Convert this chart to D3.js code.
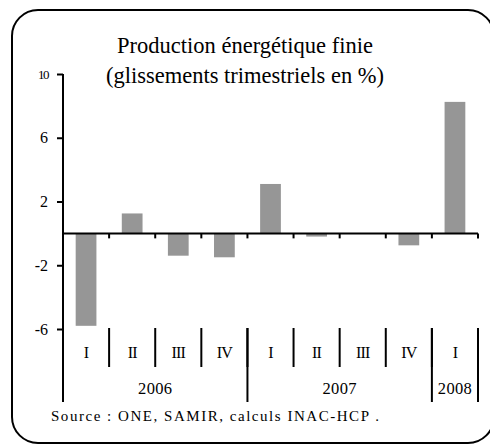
<!DOCTYPE html>
<html>
<head>
<meta charset="utf-8">
<script src="https://cdn.jsdelivr.net/npm/d3@7"></script>
<style>
  body { margin: 0; background: #fff; }
  svg { display: block; font-family: "Liberation Serif", "Times New Roman", serif; }
</style>
</head>
<body>
<svg id="chart" width="490" height="445"></svg>
<script>
// data
const quarters = ['I', 'II', 'III', 'IV', 'I', 'II', 'III', 'IV', 'I'];
const values = [-5.8, 1.25, -1.4, -1.5, 3.1, -0.2, 0, -0.75, 8.25];
const yearLabels = ['2006', '2007', '2008'];
const yearSpans = [4, 4, 1];
const yTicks = [-6, -2, 2, 6, 10];

const svg = d3.select('#chart');

// rounded frame
svg.append('rect')
  .attr('x', 12).attr('y', 10)
  .attr('width', 482).attr('height', 433)
  .attr('rx', 26).attr('ry', 26)
  .attr('fill', 'none')
  .attr('stroke', '#000')
  .attr('stroke-width', 2);

// title
const title = svg.append('text')
  .attr('text-anchor', 'middle')
  .attr('font-size', 22.5);
title.append('tspan').attr('x', 245).attr('y', 53).text('Production énergétique finie');
title.append('tspan').attr('x', 245).attr('y', 83).text('(glissements trimestriels en %)');

const left = 63, right = 478;
const idx = d3.range(quarters.length);

const x = d3.scaleBand()
  .domain(idx)
  .range([left, right])
  .padding(0);

const y = d3.scaleLinear()
  .domain([-6, 10])
  .range([329, 74]);

// bars
const barW = x.bandwidth() * 0.45;
svg.append('g')
  .selectAll('rect')
  .data(values)
  .enter().append('rect')
  .attr('x', (d, i) => x(i) + (x.bandwidth() - barW) / 2)
  .attr('y', (d) => y(Math.max(0, d)))
  .attr('width', barW)
  .attr('height', (d) => Math.abs(y(d) - y(0)))
  .attr('fill', '#969696');

// y axis
const yAxis = svg.append('g')
  .attr('transform', `translate(${left}, 0)`)
  .call(d3.axisLeft(y).tickValues(yTicks).tickSize(6).tickSizeOuter(0).tickFormat((d) => String(d)))
  .attr('font-family', null)
  .attr('font-size', null);
yAxis.select('.domain').remove();
yAxis.selectAll('.tick line').attr('stroke', '#000').attr('stroke-width', 2);
yAxis.selectAll('.tick text')
  .attr('x', -15)
  .attr('font-size', (d) => d === 10 ? 13 : 16)
  .attr('letter-spacing', (d) => d === 10 ? -1.5 : 0)
  .attr('fill', '#000');

// vertical axis line, runs down through the category labels
svg.append('line')
  .attr('x1', left).attr('x2', left)
  .attr('y1', y(10)).attr('y2', 402)
  .attr('stroke', '#000').attr('stroke-width', 2);

// x axis at zero
const bounds = idx.map((i) => x(i)).concat([right]);
const xAxis = svg.append('g')
  .attr('transform', `translate(0, ${y(0)})`);
xAxis.append('line')
  .attr('x1', left).attr('x2', right)
  .attr('stroke', '#000').attr('stroke-width', 2);
xAxis.selectAll('.xt')
  .data(bounds)
  .enter().append('line')
  .attr('class', 'xt')
  .attr('x1', (d) => d).attr('x2', (d) => d)
  .attr('y1', 0).attr('y2', 5)
  .attr('stroke', '#000').attr('stroke-width', 2);

// quarter labels + separators
const catTop = 328;
svg.append('g')
  .selectAll('text')
  .data(quarters)
  .enter().append('text')
  .attr('x', (d, i) => x(i) + x.bandwidth() / 2)
  .attr('y', 358)
  .attr('text-anchor', 'middle')
  .attr('font-size', 16)
  .attr('letter-spacing', -0.8)
  .text((d) => d);

svg.append('g')
  .selectAll('line')
  .data(bounds.slice(1, -1))
  .enter().append('line')
  .attr('x1', (d) => d).attr('x2', (d) => d)
  .attr('y1', catTop).attr('y2', 367)
  .attr('stroke', '#000').attr('stroke-width', 2);

// year groups
const yearStart = yearSpans.map((s, i) => d3.sum(yearSpans.slice(0, i)));
const yearBounds = yearStart.map((s) => bounds[s]).concat([right]);
svg.append('g')
  .selectAll('line')
  .data(yearBounds)
  .enter().append('line')
  .attr('x1', (d) => d).attr('x2', (d) => d)
  .attr('y1', catTop).attr('y2', 402)
  .attr('stroke', '#000').attr('stroke-width', 2);

svg.append('g')
  .selectAll('text')
  .data(yearLabels)
  .enter().append('text')
  .attr('x', (d, i) => (yearBounds[i] + yearBounds[i + 1]) / 2)
  .attr('y', 394)
  .attr('text-anchor', 'middle')
  .attr('font-size', 16.5)
  .attr('letter-spacing', 0.3)
  .text((d) => d);

// source
svg.append('text')
  .attr('x', 51)
  .attr('y', 421)
  .attr('font-size', 15)
  .attr('textLength', 328)
  .attr('lengthAdjust', 'spacing')
  .text('Source : ONE, SAMIR, calculs INAC-HCP .');
</script>
</body>
</html>
